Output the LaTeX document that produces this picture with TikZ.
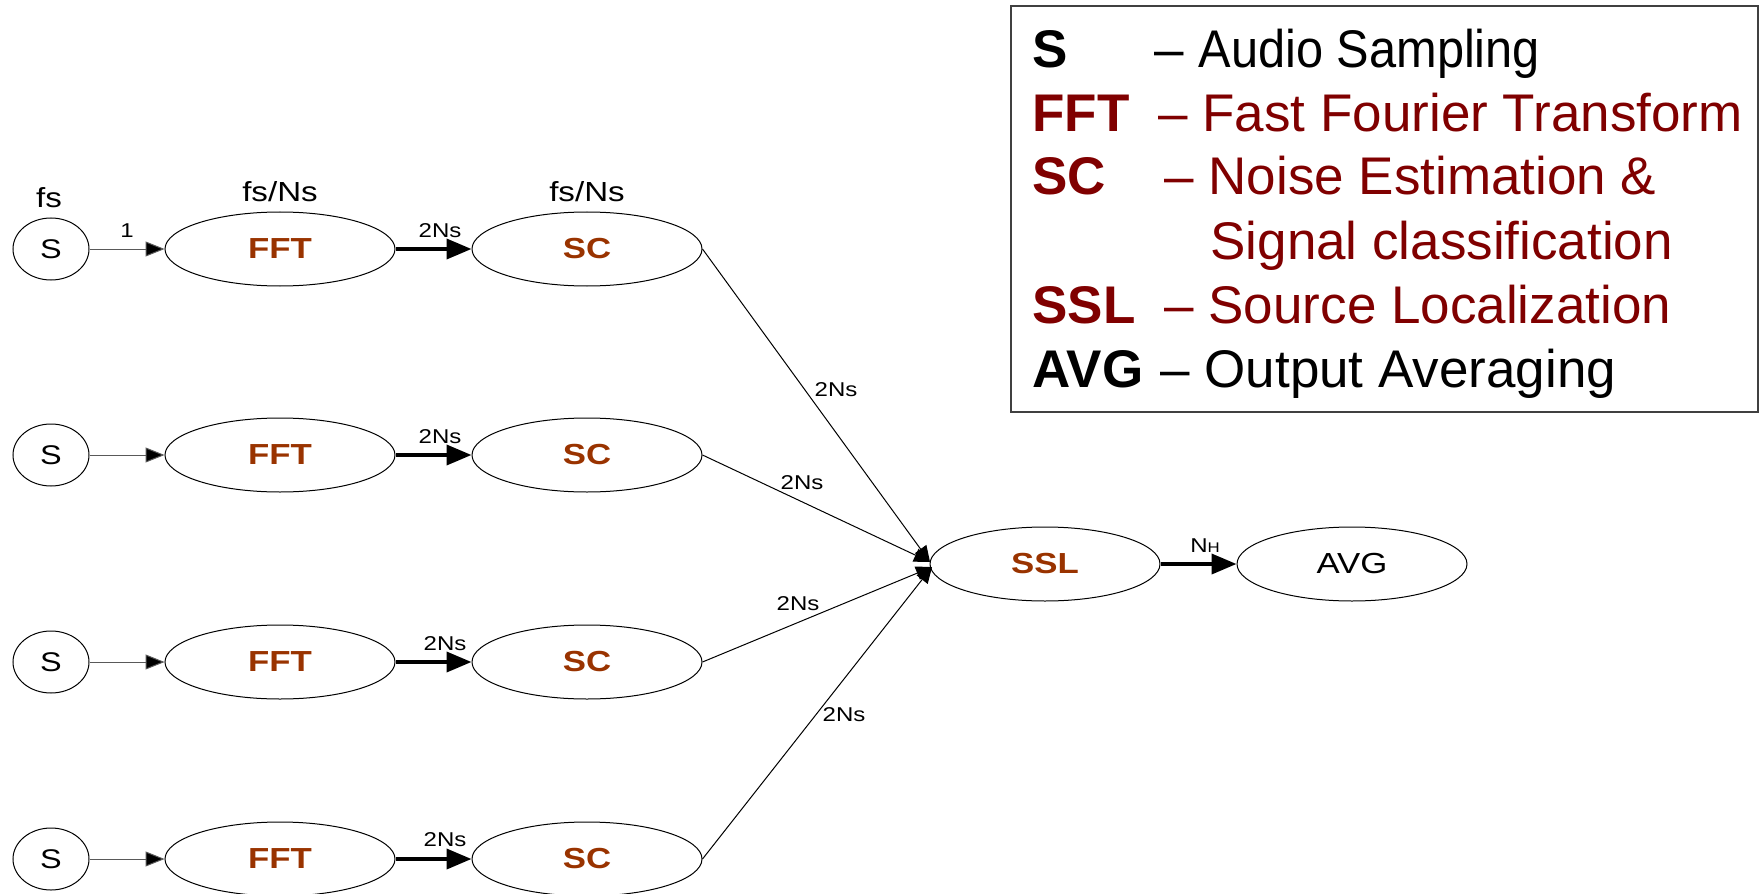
\documentclass[tikz,border=0pt]{standalone}
\usepackage{fontspec}
\setmainfont{Liberation Sans}
\newfontfamily\diagfont[FakeStretch=1.2]{Liberation Sans}
\usetikzlibrary{shapes.geometric,arrows.meta}
\definecolor{blockbrown}{HTML}{993300}
\definecolor{legendred}{HTML}{800000}
\definecolor{framegray}{HTML}{404040}
\begin{document}
\begin{tikzpicture}[x=0.5pt,y=-0.5pt,
  blk/.style={ellipse,draw,line width=0.5pt,minimum width=115pt,minimum height=37pt,
    inner sep=0pt,font=\diagfont\fontsize{14.5}{16}\selectfont\bfseries,text=blockbrown},
  outblk/.style={blk,font=\diagfont\fontsize{14.5}{16}\selectfont,text=black},
  src/.style={ellipse,draw,line width=0.5pt,minimum width=38pt,minimum height=31pt,
    inner sep=0pt,font=\diagfont\fontsize{13.5}{15}\selectfont},
  rate/.style={inner sep=0pt,anchor=base,font=\diagfont\fontsize{13.8}{15}\selectfont},
  elab/.style={inner sep=0pt,anchor=base,font=\diagfont\fontsize{10}{12}\selectfont},
  feed/.style={line width=0.5pt,draw=black!65,-{Triangle[length=9.5pt,width=7.5pt,fill=black]}},
  heavy/.style={line width=1.9pt,-{Triangle[length=12.5pt,width=10pt]}},
  diag/.style={line width=0.5pt,-{Triangle[length=8pt,width=7pt]}},
  keytxt/.style={inner sep=0pt,anchor=base west,font=\fontsize{26.5}{30}\selectfont\bfseries},
  deftxt/.style={inner sep=0pt,anchor=base west,font=\fontsize{26.5}{30}\selectfont}
]
\useasboundingbox (0,0) rectangle (1759,893);

% processing chains
\foreach \i/\y in {1/249,2/455,3/662,4/859}{
  \node[src] (s\i) at (51,\y) {S};
  \node[blk] (fft\i) at (280,\y) {FFT};
  \node[blk] (sc\i) at (587,\y) {SC};
  \draw[feed] (s\i) -- (fft\i);
  \draw[heavy] (fft\i) -- (sc\i);
}

\node[blk] (ssl) at (1045,564) {SSL};
\node[outblk] (avg) at (1352,564) {AVG};
\draw[heavy] (ssl) -- (avg);

% sample rates
\node[rate] (rs) at (49,207) {fs};
\node[rate] (rfft) at (280,202) {fs/Ns};
\node[rate] (rsc) at (587,202) {fs/Ns};

% token labels on the chains
\node[elab] (l1) at (127,237) {1};
\node[elab] (l2a) at (440,237) {2Ns};
\node[elab] (l2b) at (440,443) {2Ns};
\node[elab] (l2c) at (445,650) {2Ns};
\node[elab] (l2d) at (445,846) {2Ns};
\node[elab] (lnh) at (1205,552) {N{\fontsize{7}{8}\selectfont H}};

% fan-in to localization
\coordinate (inup) at (930,562);
\coordinate (indn) at (932,567);
\draw[diag] (sc1.east) -- (inup);
\draw[diag] (sc2.east) -- (inup);
\draw[diag] (sc3.east) -- (indn);
\draw[diag] (sc4.east) -- (indn);
\node[elab,anchor=center] (d1) at (836,390) {2Ns};
\node[elab,anchor=center] (d2) at (802,483) {2Ns};
\node[elab,anchor=center] (d3) at (798,604) {2Ns};
\node[elab,anchor=center] (d4) at (844,715) {2Ns};

% legend
\node[draw=framegray,line width=1pt,anchor=north west,minimum width=373.5pt,
  minimum height=203pt,inner sep=0pt] (legend) at (1010,5) {};
\node[keytxt] (k1) at (1032,68) {S};
\node[deftxt] (t1) at (1154,68) {– \scalebox{0.92}[1]{Audio Sampling}};
\node[keytxt,text=legendred] (k2) at (1032,132) {FFT};
\node[deftxt,text=legendred] (t2) at (1158,132) {– Fast Fourier Transform};
\node[keytxt,text=legendred] (k3) at (1032,195) {SC};
\node[deftxt,text=legendred] (t3) at (1164,195) {– Noise Estimation \&};
\node[deftxt,text=legendred] (t3b) at (1210,259) {Signal classification};
\node[keytxt,text=legendred] (k4) at (1032,323) {SSL};
\node[deftxt,text=legendred] (t4) at (1164,323) {– Source Localization};
\node[keytxt] (k5) at (1032,387) {AVG};
\node[deftxt] (t5) at (1160,387) {– Output Averaging};
\end{tikzpicture}
\end{document}
